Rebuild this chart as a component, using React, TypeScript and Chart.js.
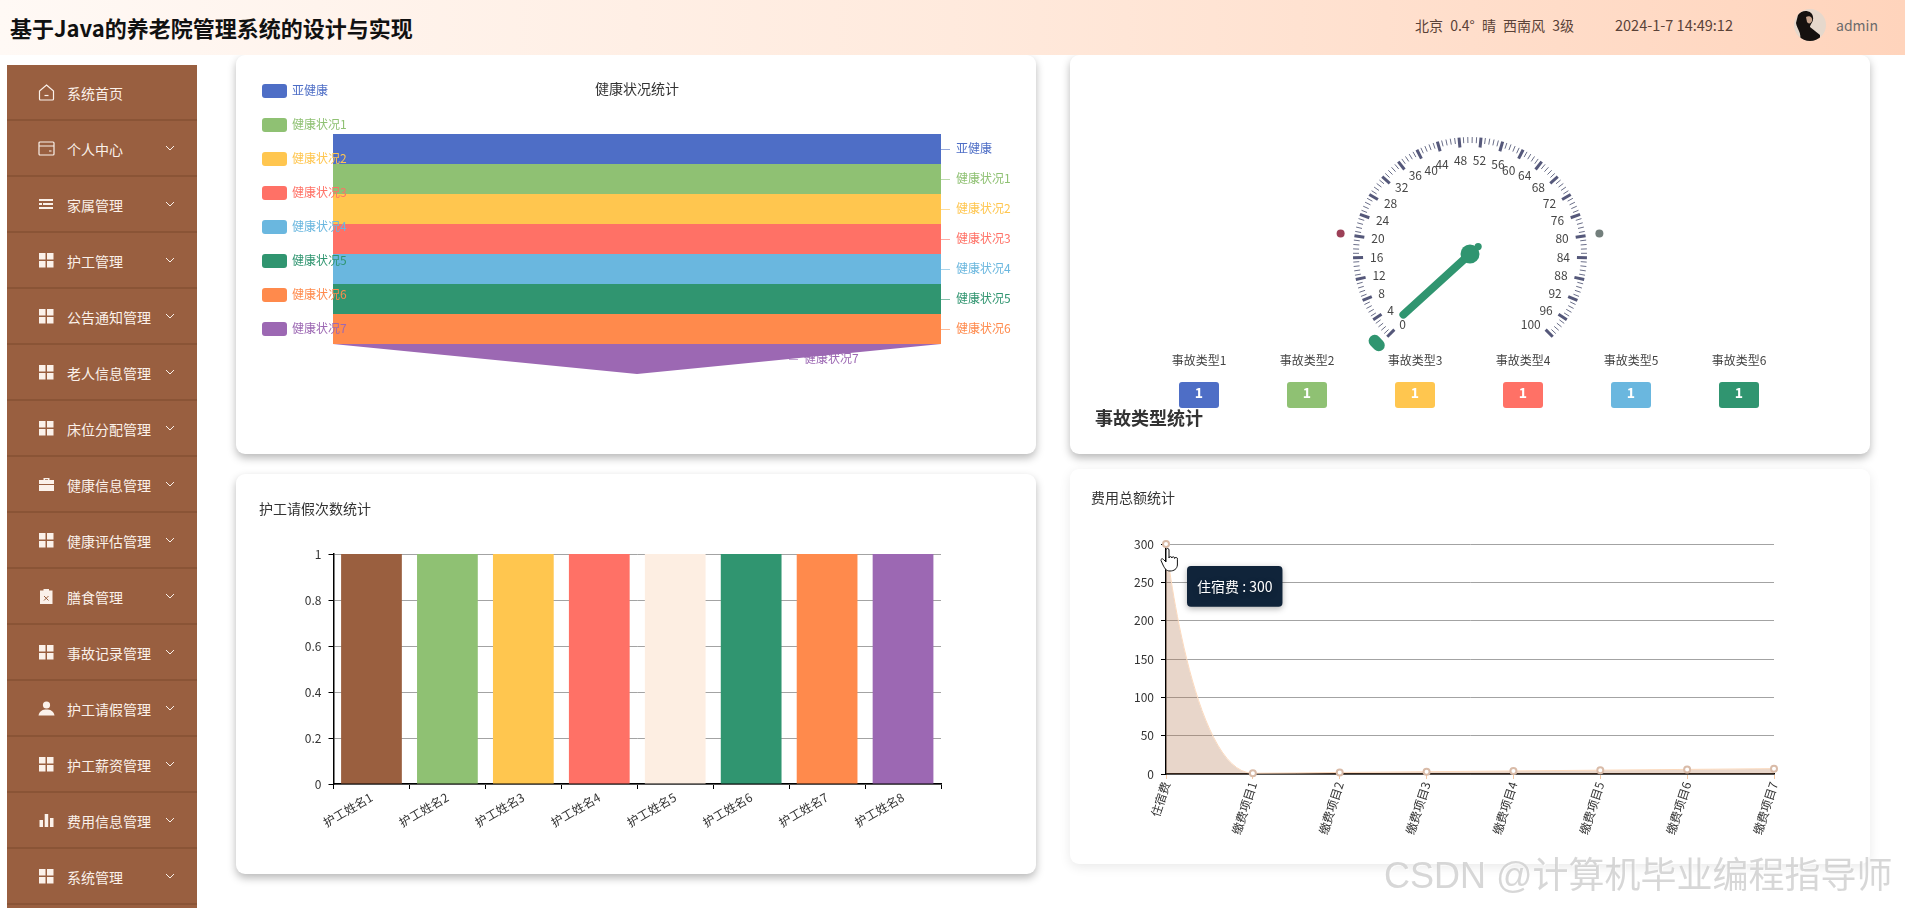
import React, { useEffect, useRef } from "react";
import { Chart, registerables, Tooltip } from "chart.js";

Chart.register(...registerables);
Chart.defaults.font.family = '"Noto Sans CJK SC","Noto Sans",sans-serif';
Chart.defaults.font.size = 12;
Chart.defaults.color = "#333";

const FONT = '"Noto Sans CJK SC","Noto Sans",sans-serif';

// ---------- data ----------
const palette = ["#4E6EC6", "#8FC173", "#FFC64F", "#FF7166", "#6AB7DF", "#309570", "#FF8A4C", "#9C68B3"];
const barColors = ["#9A5F3F", "#8FC173", "#FFC64F", "#FF7166", "#FDEEE2", "#309570", "#FF8A4C", "#9C68B3"];

const healthCategories = ["亚健康", "健康状况1", "健康状况2", "健康状况3", "健康状况4", "健康状况5", "健康状况6", "健康状况7"];
const healthValues = [1, 1, 1, 1, 1, 1, 1, 1];

const accidentTypes = ["事故类型1", "事故类型2", "事故类型3", "事故类型4", "事故类型5", "事故类型6"];
const accidentValues = [1, 1, 1, 1, 1, 1];
const gaugeValue = 1;
const gaugeBands = [20, 60, 20];
const gaugeBandColors = ["#B5566B", "#9EA7A2", "#3C4A72"];

const nurseNames = ["护工姓名1", "护工姓名2", "护工姓名3", "护工姓名4", "护工姓名5", "护工姓名6", "护工姓名7", "护工姓名8"];
const leaveCounts = [1, 1, 1, 1, 1, 1, 1, 1];

const feeItems = ["住宿费", "缴费项目1", "缴费项目2", "缴费项目3", "缴费项目4", "缴费项目5", "缴费项目6", "缴费项目7"];
const feeValues = [300, 1, 2, 3, 4, 5, 6, 7];

const menus: [string, string, boolean][] = [
  ["系统首页", "home", false],
  ["个人中心", "wallet", true],
  ["家属管理", "list", true],
  ["护工管理", "grid", true],
  ["公告通知管理", "grid", true],
  ["老人信息管理", "grid", true],
  ["床位分配管理", "grid", true],
  ["健康信息管理", "case", true],
  ["健康评估管理", "grid", true],
  ["膳食管理", "clip", true],
  ["事故记录管理", "grid", true],
  ["护工请假管理", "person", true],
  ["护工薪资管理", "grid", true],
  ["费用信息管理", "bars", true],
  ["系统管理", "grid", true],
];

// ---------- chart plugins ----------
const funnelDecor = {
  id: "funnelDecor",
  afterDatasetsDraw(chart: any) {
    const { ctx, scales } = chart;
    const maxV = Math.max(...healthValues);
    ctx.save();
    ctx.font = `12px ${FONT}`;
    ctx.textBaseline = "middle";
    healthCategories.forEach((name, i) => {
      const next = i + 1 < healthValues.length ? healthValues[i + 1] : 0;
      const midW = (healthValues[i] + next) / 2 / maxV / 2;
      const xEdge = scales.x.getPixelForValue(midW);
      const y = scales.y.getPixelForValue(i + 0.5);
      ctx.strokeStyle = palette[i];
      ctx.globalAlpha = 0.6;
      ctx.lineWidth = 1;
      ctx.beginPath();
      ctx.moveTo(xEdge, y + 0.5);
      ctx.lineTo(xEdge + 9, y + 0.5);
      ctx.stroke();
      ctx.globalAlpha = 1;
      ctx.fillStyle = palette[i];
      ctx.textAlign = "left";
      ctx.fillText(name, xEdge + 15, y - 1);

      const ly = 36 + i * 34;
      ctx.beginPath();
      ctx.roundRect(26, ly - 7, 25, 14, 3);
      ctx.fill();
      ctx.fillText(name, 56, ly - 1);
    });
    ctx.restore();
  },
};

const gaugeDecor = {
  id: "gaugeDecor",
  afterDatasetsDraw(chart: any) {
    const { ctx } = chart;
    const arc = chart.getDatasetMeta(0).data[0];
    const cx = arc.x;
    const cy = arc.y;
    const R = arc.outerRadius;
    const unit = (v: number) => {
      const a = ((225 - 2.7 * v) * Math.PI) / 180;
      return [Math.cos(a), -Math.sin(a)];
    };
    ctx.save();
    // band junctions
    [
      [20, "#9C4057"],
      [80, "#737F7C"],
    ].forEach(([v, c]: any) => {
      const [ux, uy] = unit(v);
      ctx.fillStyle = c;
      ctx.beginPath();
      ctx.arc(cx + ux * (R - 4), cy + uy * (R - 4), 4, 0, Math.PI * 2);
      ctx.fill();
    });
    // axis ticks
    for (let v = 0; v <= 100; v += 0.8) {
      const major = Math.round(v * 10) % 40 === 0;
      const [ux, uy] = unit(v);
      ctx.strokeStyle = major ? "#55587A" : "#6A6E88";
      ctx.lineWidth = major ? 3 : 1;
      const r0 = 117;
      const r1 = major ? 107 : 111;
      ctx.beginPath();
      ctx.moveTo(cx + ux * r0, cy + uy * r0);
      ctx.lineTo(cx + ux * r1, cy + uy * r1);
      ctx.stroke();
    }
    // axis labels
    ctx.font = `12px ${FONT}`;
    ctx.fillStyle = "#464646";
    for (let v = 0; v <= 100; v += 4) {
      const [ux, uy] = unit(v);
      ctx.textAlign = ux < -0.4 ? "left" : ux > 0.4 ? "right" : "center";
      ctx.textBaseline = uy < -0.8 ? "top" : uy > 0.8 ? "bottom" : "middle";
      ctx.fillText(String(v), cx + ux * 100, cy + uy * 100);
    }
    // progress + needle
    const green = "#309570";
    const a0 = (-225 * Math.PI) / 180;
    const a1 = (-(225 - 2.7 * gaugeValue) * Math.PI) / 180;
    ctx.strokeStyle = green;
    ctx.lineCap = "round";
    ctx.lineWidth = 12;
    ctx.beginPath();
    ctx.arc(cx, cy, R - 6, a0, a1);
    ctx.stroke();
    const [nx, ny] = unit(gaugeValue);
    ctx.lineWidth = 8;
    ctx.beginPath();
    ctx.moveTo(cx, cy);
    ctx.lineTo(cx + nx * 90, cy + ny * 90);
    ctx.stroke();
    ctx.fillStyle = green;
    ctx.beginPath();
    ctx.arc(cx, cy, 9.5, 0, Math.PI * 2);
    ctx.fill();
    ctx.beginPath();
    ctx.arc(cx - nx * 11, cy - ny * 11, 3.6, 0, Math.PI * 2);
    ctx.fill();
    // details row
    accidentTypes.forEach((name, i) => {
      const x = 129 + i * 108;
      ctx.font = `12px ${FONT}`;
      ctx.fillStyle = "#444";
      ctx.textAlign = "center";
      ctx.textBaseline = "middle";
      ctx.fillText(name, x, 305);
      ctx.fillStyle = palette[i];
      ctx.beginPath();
      ctx.roundRect(x - 20, 327, 40, 26, 3);
      ctx.fill();
      ctx.fillStyle = "#fff";
      ctx.font = `bold 14px ${FONT}`;
      ctx.fillText(String(accidentValues[i]), x, 338);
    });
    ctx.font = `bold 18px ${FONT}`;
    ctx.fillStyle = "#333";
    ctx.textAlign = "left";
    ctx.fillText("事故类型统计", 25, 363);
    ctx.restore();
  },
};

// the first span of the fee curve leaves its first point flat-controlled, like the original's smoothing
const feeCurve = {
  id: "feeCurve",
  beforeDatasetsDraw(chart: any) {
    const meta = chart.getDatasetMeta(0);
    const line = meta.dataset;
    line.updateControlPoints(chart.chartArea, "x");
    const [p0, p1] = meta.data;
    p0.cp2x = p0.x;
    p0.cp2y = p0.y;
    p1.cp1x = p0.x + (p1.x - p0.x) * 0.3;
    p1.cp1y = p1.y;
  },
};

const tooltipShadow = {
  id: "tooltipShadow",
  beforeTooltipDraw(chart: any) {
    const { ctx } = chart;
    ctx.save();
    ctx.shadowColor = "rgba(0,0,0,0.3)";
    ctx.shadowBlur = 6;
    ctx.shadowOffsetY = 2;
  },
  afterTooltipDraw(chart: any) {
    chart.ctx.restore();
  },
};

(Tooltip.positioners as any).feeFixed = function () {
  return { x: 121, y: 97 };
};

// ---------- helpers ----------
const axisY = (width: number) => ({
  afterFit: (s: any) => {
    s.width = width;
  },
  border: { color: "#000", width: 1.5 },
  grid: { color: "#A3A3A3", tickColor: "#000", tickLength: 5, lineWidth: 1 },
});

function funnelBands() {
  const maxV = Math.max(...healthValues);
  return healthCategories.map((name, i) => {
    const top = healthValues[i] / maxV / 2;
    const bottom = (i + 1 < healthValues.length ? healthValues[i + 1] : 0) / maxV / 2;
    return {
      label: name,
      data: [
        { x: -top, y: i },
        { x: top, y: i },
        { x: bottom, y: i + 1 },
        { x: -bottom, y: i + 1 },
        { x: -top, y: i },
      ],
      showLine: true,
      fill: "shape",
      backgroundColor: palette[i],
      borderColor: palette[i],
      borderWidth: 0,
      pointRadius: 0,
      tension: 0,
    };
  });
}

const common = {
  responsive: false,
  animation: false as const,
  events: [] as string[],
};

function makeCharts(c1: any, c2: any, c3: any, c4: any) {
  const funnel = new Chart(c1, {
    type: "scatter",
    data: { datasets: funnelBands() as any },
    options: {
      ...common,
      layout: { padding: { left: 97, right: 95, top: 25, bottom: 80 } },
      scales: {
        x: { type: "linear", display: false, min: -0.5, max: 0.5 },
        y: { type: "linear", display: false, min: 0, max: 8, reverse: true },
      },
      plugins: {
        legend: { display: false },
        tooltip: { enabled: false },
        title: {
          display: true,
          text: "健康状况统计",
          color: "#333",
          font: { size: 14, weight: "normal" },
          padding: { top: 0, bottom: 37.2 },
        },
      },
    } as any,
    plugins: [funnelDecor],
  });

  const gauge = new Chart(c2, {
    type: "doughnut",
    data: {
      labels: ["低", "中", "高"],
      datasets: [
        {
          data: gaugeBands,
          backgroundColor: gaugeBandColors,
          borderWidth: 0,
          borderRadius: 4,
        },
      ],
    },
    options: {
      ...common,
      rotation: -135,
      circumference: 270,
      cutout: 127,
      layout: { padding: { left: 265, right: 265, top: 64, bottom: 104.5 } },
      plugins: { legend: { display: false }, tooltip: { enabled: false } },
    } as any,
    plugins: [gaugeDecor],
  });

  const bars = new Chart(c3, {
    type: "bar",
    data: {
      labels: nurseNames,
      datasets: [{ data: leaveCounts, backgroundColor: barColors, barPercentage: 0.8, categoryPercentage: 1 }],
    },
    options: {
      ...common,
      layout: { padding: { left: 23, right: 95, top: 26, bottom: 0 } },
      scales: {
        x: {
          afterFit: (s: any) => {
            s.height = 90;
          },
          border: { color: "#000", width: 1.5 },
          grid: { drawOnChartArea: false, tickColor: "#000", tickLength: 5, offset: true },
          ticks: { minRotation: 30, maxRotation: 30, autoSkip: false, color: "#333", padding: 1, font: { size: 12 } },
        },
        y: {
          ...axisY(74.5),
          min: 0,
          max: 1,
          ticks: {
            stepSize: 0.2,
            color: "#333",
            padding: 7,
            callback: (v: any) => String(+Number(v).toFixed(1)),
          },
        },
      },
      plugins: {
        legend: { display: false },
        tooltip: { enabled: false },
        title: {
          display: true,
          text: "护工请假次数统计",
          align: "start",
          color: "#333",
          font: { size: 14, weight: "normal" },
          padding: { top: 0, bottom: 37.2 },
        },
      },
    } as any,
  });

  const fees = new Chart(c4, {
    type: "line",
    data: {
      labels: feeItems,
      datasets: [
        {
          data: feeValues,
          fill: "origin",
          backgroundColor: "rgba(178,118,78,0.3)",
          borderColor: "#FBD9BD",
          borderWidth: 1,
          cubicInterpolationMode: "monotone",
          pointRadius: 3,
          pointBorderWidth: 2,
          pointBackgroundColor: "#fff",
          pointBorderColor: "#D9BBA8",
          clip: false,
        },
      ],
    },
    options: {
      ...common,
      layout: { padding: { left: 21, right: 96, top: 20.6, bottom: 0 } },
      scales: {
        x: {
          offset: false,
          afterFit: (s: any) => {
            s.height = 90;
          },
          border: { color: "#000", width: 1.5 },
          grid: { drawOnChartArea: false, tickColor: "#F3C9A6", tickLength: 5 },
          ticks: { minRotation: 72, maxRotation: 72, autoSkip: false, color: "#333", padding: 1, font: { size: 12 } },
        },
        y: {
          ...axisY(75),
          min: 0,
          max: 300,
          ticks: { stepSize: 50, color: "#333", padding: 7 },
        },
      },
      plugins: {
        legend: { display: false },
        title: {
          display: true,
          text: "费用总额统计",
          align: "start",
          color: "#333",
          font: { size: 14, weight: "normal" },
          padding: { top: 0, bottom: 37.6 },
        },
        tooltip: {
          enabled: true,
          position: "feeFixed",
          xAlign: "left",
          yAlign: "top",
          caretSize: 0,
          caretPadding: 0,
          displayColors: false,
          backgroundColor: "#10243A",
          bodyColor: "#fff",
          bodyFont: { size: 14 },
          cornerRadius: 4,
          padding: { x: 10, y: 12 },
          callbacks: {
            title: () => "",
            label: (ctx: any) => `${ctx.label} : ${ctx.raw}`,
          },
        },
      },
    } as any,
    plugins: [feeCurve, tooltipShadow],
  });
  fees.tooltip!.setActiveElements([{ datasetIndex: 0, index: 0 }], { x: 0, y: 0 });
  fees.render();
  return [funnel, gauge, bars, fees];
}

// ---------- page pieces ----------
function Icon({ kind }: { kind: string }) {
  const c = "#FBF1EA";
  const grid = (
    <g fill={c}>
      <rect x="1" y="1" width="6.5" height="6.5" />
      <rect x="9" y="1" width="6.5" height="6.5" />
      <rect x="1" y="9" width="6.5" height="6.5" />
      <rect x="9" y="9" width="6.5" height="6.5" />
    </g>
  );
  const shapes: Record<string, any> = {
    home: (
      <g fill="none" stroke={c} strokeWidth="1.2">
        <path d="M8.5 1 L15.5 7 V15 a1 1 0 0 1 -1 1 H2.5 a1 1 0 0 1 -1 -1 V7 Z" />
        <path d="M6.5 11.5 h4" />
      </g>
    ),
    wallet: (
      <g fill="none" stroke={c} strokeWidth="1.2">
        <rect x="1" y="2" width="15" height="13" rx="1" />
        <path d="M1 6 H16 M11 11 h2.5" />
      </g>
    ),
    list: (
      <g fill={c}>
        <rect x="1" y="3" width="14" height="2" />
        <rect x="5" y="7" width="10" height="2" />
        <rect x="1" y="11" width="14" height="2" />
        <rect x="1" y="7" width="3" height="2" />
      </g>
    ),
    grid,
    case: (
      <g fill={c}>
        <path d="M5.5 4 V2 h6 V4 H16 V8 H1 V4 Z M7 4 h3 V3.2 H7 Z" />
        <rect x="1" y="9" width="15" height="6" />
      </g>
    ),
    clip: (
      <g>
        <rect x="2" y="2.5" width="12.5" height="13.5" fill={c} />
        <rect x="5.5" y="1" width="5.5" height="3" fill={c} />
        <path d="M6 8 L10.5 12.5 M10.5 8 L6 12.5" stroke="#995F40" strokeWidth="1" />
      </g>
    ),
    person: (
      <g fill={c}>
        <circle cx="8.5" cy="5" r="3.6" />
        <path d="M0.5 15.5 C1.5 10.5 5 9.5 8.5 9.5 C12 9.5 15.5 10.5 16.5 15.5 Z" />
      </g>
    ),
    bars: (
      <g fill={c}>
        <rect x="1.5" y="8" width="3.5" height="7" />
        <rect x="6.7" y="2" width="3.5" height="13" />
        <rect x="12" y="6" width="3.5" height="9" />
      </g>
    ),
  };
  return (
    <svg width="17" height="17" viewBox="0 0 17 17" style={{ position: "absolute", left: 31, top: 19 }}>
      {shapes[kind]}
    </svg>
  );
}

function Sidebar() {
  return (
    <div style={{ position: "absolute", left: 7, top: 65, width: 190, height: 843, background: "#995F40" }}>
      {menus.map(([name, icon, arrow], i) => (
        <div
          key={name}
          style={{
            position: "absolute",
            left: 0,
            top: i * 56,
            width: 190,
            height: 56,
            boxSizing: "border-box",
            borderBottom: "2px solid #8A5436",
          }}
        >
          <Icon kind={icon} />
          <span
            style={{
              position: "absolute",
              left: 60,
              top: 0,
              lineHeight: "56px",
              fontSize: 14,
              color: "#FBF1EA",
              fontFamily: FONT,
            }}
          >
            {name}
          </span>
          {arrow && (
            <svg width="10" height="6" viewBox="0 0 10 6" style={{ position: "absolute", left: 158, top: 24 }}>
              <path d="M1 1 L5 5 L9 1" fill="none" stroke="#FBF1EA" strokeWidth="1" />
            </svg>
          )}
        </div>
      ))}
    </div>
  );
}

function Header() {
  const base: any = { position: "absolute", fontFamily: FONT, whiteSpace: "nowrap", lineHeight: "20px" };
  return (
    <div
      style={{
        position: "absolute",
        left: 0,
        top: 0,
        width: 1905,
        height: 55,
        zIndex: 5,
        background: "linear-gradient(90deg,#FFF9F5 0%,#FFEADD 50%,#FFD4BC 100%)",
      }}
    >
      <span style={{ ...base, left: 10, top: 14, fontSize: 22, fontWeight: 700, color: "#111", lineHeight: "26px" }}>
        基于Java的养老院管理系统的设计与实现
      </span>
      <span style={{ ...base, left: 1415, top: 15, fontSize: 14, color: "#5A4238", wordSpacing: 4 }}>
        北京 0.4° 晴 西南风 3级
      </span>
      <span style={{ ...base, left: 1615, top: 15, fontSize: 14.5, color: "#5A4238" }}>2024-1-7 14:49:12</span>
      <svg width="32" height="32" viewBox="0 0 32 32" style={{ position: "absolute", left: 1794, top: 9 }}>
        <defs>
          <clipPath id="av">
            <circle cx="16" cy="16" r="16" />
          </clipPath>
        </defs>
        <g clipPath="url(#av)">
          <rect width="32" height="32" fill="#E6D8CC" />
          <path d="M4 6 C8 0 18 1 19 8 C20 13 16 15 16 18 L26 26 L26 32 L6 32 C8 24 3 20 2 14 Z" fill="#15110F" />
          <path d="M12 8 C15 6 19 8 18 12 C17 15 14 15 13 13 Z" fill="#C9A58E" />
        </g>
      </svg>
      <span style={{ ...base, left: 1836, top: 15, fontSize: 14, color: "#6B6B6B" }}>admin</span>
    </div>
  );
}

const cardStyle = (l: number, t: number, w: number, h: number, shadow: string): any => ({
  position: "absolute",
  left: l,
  top: t,
  width: w,
  height: h,
  background: "#fff",
  borderRadius: 9,
  boxShadow: shadow,
});

const strong = "0 4px 9px rgba(0,0,0,0.28)";
const soft = "0 3px 12px rgba(0,0,0,0.09)";

export default function App() {
  const r1 = useRef<HTMLCanvasElement>(null);
  const r2 = useRef<HTMLCanvasElement>(null);
  const r3 = useRef<HTMLCanvasElement>(null);
  const r4 = useRef<HTMLCanvasElement>(null);

  useEffect(() => {
    const charts = makeCharts(r1.current, r2.current, r3.current, r4.current);
    return () => charts.forEach((c) => c.destroy());
  }, []);

  const cv: any = { display: "block" };
  return (
    <div
      style={{
        position: "fixed",
        left: 0,
        top: 0,
        width: 1905,
        height: 908,
        overflow: "hidden",
        background: "#fff",
        fontFamily: FONT,
      }}
    >
      <Header />
      <Sidebar />
      <div style={cardStyle(236, 55, 800, 399, strong)}>
        <canvas ref={r1} width={800} height={399} style={cv} />
      </div>
      <div style={cardStyle(1070, 55, 800, 399, strong)}>
        <canvas ref={r2} width={800} height={399} style={cv} />
      </div>
      <div style={cardStyle(236, 474, 800, 400, strong)}>
        <canvas ref={r3} width={800} height={400} style={cv} />
      </div>
      <div style={cardStyle(1070, 469, 800, 395, soft)}>
        <canvas ref={r4} width={800} height={395} style={cv} />
      </div>
      <svg width="20" height="24" viewBox="0 0 20 24" style={{ position: "absolute", left: 1160, top: 548, zIndex: 4 }}>
        <path
          d="M6 2 a1.5 1.5 0 0 1 3 0 V10 a1.4 1.4 0 0 1 2.8 0 a1.4 1.4 0 0 1 2.8 0.5 a1.4 1.4 0 0 1 2.8 0.7 V17 C17 21 14 23 10 23 C6 23 4.5 20 3 17 L1 12.5 C0.5 11 2.5 10 3.5 11.5 L6 14 Z"
          fill="#fff"
          stroke="#111"
          strokeWidth="1"
        />
      </svg>
      <div
        style={{
          position: "absolute",
          left: 1384,
          top: 853,
          fontFamily: '"Liberation Sans",' + FONT,
          fontSize: 36,
          lineHeight: "46px",
          color: "rgba(190,190,190,0.62)",
          textShadow: "1px 1px 0 rgba(255,255,255,0.7)",
          whiteSpace: "nowrap",
          zIndex: 6,
        }}
      >
        CSDN @计算机毕业编程指导师
      </div>
    </div>
  );
}
